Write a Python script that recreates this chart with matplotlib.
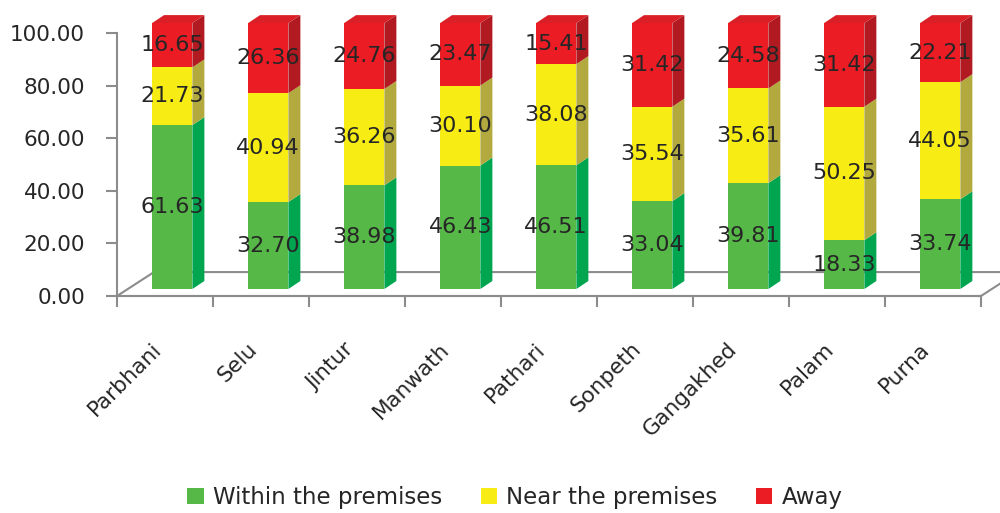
import numpy as np
import matplotlib.pyplot as plt
from matplotlib.patches import Polygon

# data
blocks = ['Parbhani', 'Selu', 'Jintur', 'Manwath', 'Pathari',
          'Sonpeth', 'Gangakhed', 'Palam', 'Purna']
within = [61.63, 32.70, 38.98, 46.43, 46.51, 33.04, 39.81, 18.33, 33.74]
near = [21.73, 40.94, 36.26, 30.10, 38.08, 35.54, 35.61, 50.25, 44.05]
away = [16.65, 26.36, 24.76, 23.47, 15.41, 31.42, 24.58, 31.42, 22.21]
series_names = ['Within the premises', 'Near the premises', 'Away']

front_cols = ['#56B947', '#F7EC13', '#EC1C24']
side_cols = ['#00A64F', '#B2AA3E', '#B01A20']
top_col = '#DA1F26'
grid_col = '#8C8C8C'
text_col = '#262626'

plt.rcParams['font.family'] = ['DejaVu Sans']


def main():
    fig = plt.figure(figsize=(10, 5.13), dpi=100)
    ax = fig.add_axes([0, 0, 1, 1])
    ax.set_xlim(-1.719, 8.698)
    ax.set_ylim(-82.51, 112.55)

    n = len(blocks)
    x = np.arange(n)

    # floor of the 3d plot
    fdx, fdy = 0.385, 9.1
    floor = Polygon([(-0.5, 0), (n - 0.5, 0), (n - 0.5 + fdx, fdy), (-0.5 + fdx, fdy)],
                    closed=True, facecolor='white', edgecolor=grid_col, lw=1.5, zorder=1)
    ax.add_patch(floor)

    # bars: front face offset into the depth, plus side / top faces
    bx, by = 0.075, 2.66      # shift of bar front plane
    bw = 0.42
    ddx, ddy = 0.125, 3.04    # bar depth
    hs = 1.011                # bars a bit taller (perspective)
    data = [within, near, away]
    bottom = np.zeros(n)
    for s, vals in enumerate(data):
        vals = np.array(vals)
        ax.bar(x + bx, vals * hs, bw, bottom=bottom * hs + by, color=front_cols[s],
               edgecolor='none', zorder=3, label=series_names[s])
        for i in range(n):
            r = x[i] + bx + bw / 2
            b = bottom[i] * hs + by
            t = b + vals[i] * hs
            ax.add_patch(Polygon([(r, b), (r + ddx, b + ddy), (r + ddx, t + ddy), (r, t)],
                                 closed=True, facecolor=side_cols[s], edgecolor='none', zorder=3))
            if s == len(data) - 1:
                l = x[i] + bx - bw / 2
                ax.add_patch(Polygon([(l, t), (l + ddx, t + ddy), (r + ddx, t + ddy), (r, t)],
                                     closed=True, facecolor=top_col, edgecolor='none', zorder=3))
            ax.text(x[i] + bx, (b + t) / 2, f'{vals[i]:.2f}', ha='center', va='center',
                    fontsize=16, color=text_col, zorder=5)
        bottom = bottom + vals

    # axes
    for sp in ['top', 'right']:
        ax.spines[sp].set_visible(False)
    ax.spines['left'].set_position(('data', -0.5))
    ax.spines['left'].set_bounds(0, 100)
    ax.spines['bottom'].set_position(('data', 0))
    ax.spines['bottom'].set_bounds(-0.5, n - 0.5)
    for sp in ['left', 'bottom']:
        ax.spines[sp].set_color(grid_col)
        ax.spines[sp].set_linewidth(1.5)
        ax.spines[sp].set_zorder(2)

    yt = np.arange(0, 101, 20)
    ax.set_yticks(yt)
    ax.set_yticklabels([f'{v:.2f}' for v in yt])
    ax.tick_params(axis='y', direction='out', length=8, width=1.5, color=grid_col,
                   labelsize=15.5, labelcolor=text_col, pad=15)

    ax.set_xticks(x - 0.07)
    ax.set_xticklabels(blocks, rotation=45, ha='right', va='center', rotation_mode='anchor')
    ax.set_xticks(np.arange(-0.5, n), minor=True)
    ax.tick_params(axis='x', which='major', length=0, labelsize=15.5,
                   labelcolor=text_col, pad=36)
    ax.tick_params(axis='x', which='minor', direction='out', length=8, width=1.5,
                   color=grid_col)

    ax.legend(loc='center', bbox_to_anchor=(0.515, 0.031), ncol=3, frameon=False,
              fontsize=16.5, handlelength=0.7, handleheight=0.7, handletextpad=0.4,
              columnspacing=1.7, labelcolor=text_col)

    fig.savefig('out.png', dpi=100)
    return 0


if __name__ == '__main__':
    main()
